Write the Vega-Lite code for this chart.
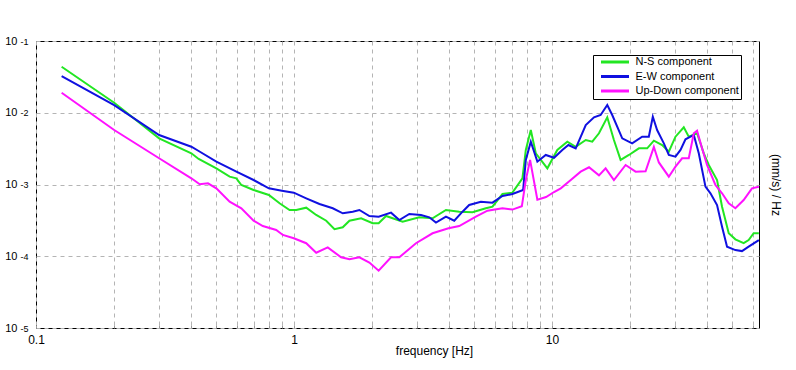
{
"$schema": "https://vega.github.io/schema/vega-lite/v6.json",
"width": 723, "height": 287,
"autosize": {"type": "none"},
"padding": {"left": 36, "top": 41, "right": 37, "bottom": 42},
"background": "white",
"config": {"view": {"stroke": "black", "strokeWidth": 1}, "font": "Liberation Sans"},
"data": {"values": [
{"c":"N-S component","f":0.1257,"v":4.38e-2},{"c":"N-S component","f":0.2009,"v":1.381e-2},{"c":"N-S component","f":0.3,"v":4.40e-3},{"c":"N-S component","f":0.4,"v":2.72e-3},{"c":"N-S component","f":0.427,"v":2.27e-3},{"c":"N-S component","f":0.5,"v":1.68e-3},{"c":"N-S component","f":0.5629,"v":1.285e-3},{"c":"N-S component","f":0.5976,"v":1.22e-3},{"c":"N-S component","f":0.6249,"v":9.84e-4},{"c":"N-S component","f":0.697,"v":8.38e-4},{"c":"N-S component","f":0.799,"v":7.14e-4},{"c":"N-S component","f":0.879,"v":5.47e-4},{"c":"N-S component","f":0.961,"v":4.41e-4},{"c":"N-S component","f":1.02,"v":4.41e-4},{"c":"N-S component","f":1.115,"v":4.75e-4},{"c":"N-S component","f":1.219,"v":3.76e-4},{"c":"N-S component","f":1.333,"v":3.13e-4},{"c":"N-S component","f":1.435,"v":2.38e-4},{"c":"N-S component","f":1.545,"v":2.53e-4},{"c":"N-S component","f":1.64,"v":3.13e-4},{"c":"N-S component","f":1.82,"v":3.38e-4},{"c":"N-S component","f":2.017,"v":2.88e-4},{"c":"N-S component","f":2.128,"v":2.88e-4},{"c":"N-S component","f":2.274,"v":3.64e-4},{"c":"N-S component","f":2.636,"v":3.03e-4},{"c":"N-S component","f":3.058,"v":3.49e-4},{"c":"N-S component","f":3.443,"v":3.38e-4},{"c":"N-S component","f":3.88,"v":4.41e-4},{"c":"N-S component","f":4.368,"v":4.18e-4},{"c":"N-S component","f":4.917,"v":4.10e-4},{"c":"N-S component","f":5.54,"v":4.66e-4},{"c":"N-S component","f":5.877,"v":4.91e-4},{"c":"N-S component","f":6.424,"v":7.37e-4},{"c":"N-S component","f":7.022,"v":7.69e-4},{"c":"N-S component","f":7.678,"v":1.22e-3},{"c":"N-S component","f":7.913,"v":3.03e-3},{"c":"N-S component","f":8.273,"v":5.75e-3},{"c":"N-S component","f":8.65,"v":2.72e-3},{"c":"N-S component","f":9.59,"v":1.68e-3},{"c":"N-S component","f":10.48,"v":3.03e-3},{"c":"N-S component","f":11.46,"v":3.95e-3},{"c":"N-S component","f":12.35,"v":3.36e-3},{"c":"N-S component","f":13.51,"v":4.17e-3},{"c":"N-S component","f":14.32,"v":3.95e-3},{"c":"N-S component","f":15.2,"v":5.17e-3},{"c":"N-S component","f":16.37,"v":8.64e-3},{"c":"N-S component","f":17.37,"v":4.17e-3},{"c":"N-S component","f":18.44,"v":2.2e-3},{"c":"N-S component","f":19.86,"v":2.58e-3},{"c":"N-S component","f":21.71,"v":3.19e-3},{"c":"N-S component","f":23.37,"v":3.19e-3},{"c":"N-S component","f":24.81,"v":4.08e-3},{"c":"N-S component","f":26.72,"v":3.55e-3},{"c":"N-S component","f":28.35,"v":2.86e-3},{"c":"N-S component","f":30.09,"v":4.64e-3},{"c":"N-S component","f":32.4,"v":6.27e-3},{"c":"N-S component","f":33.88,"v":4.64e-3},{"c":"N-S component","f":36.48,"v":5.17e-3},{"c":"N-S component","f":38.73,"v":2.72e-3},{"c":"N-S component","f":40.5,"v":1.87e-3},{"c":"N-S component","f":43.6,"v":1.155e-3},{"c":"N-S component","f":45.59,"v":4.91e-4},{"c":"N-S component","f":48.39,"v":2.09e-4},{"c":"N-S component","f":51.35,"v":1.72e-4},{"c":"N-S component","f":55.29,"v":1.52e-4},{"c":"N-S component","f":57.81,"v":1.68e-4},{"c":"N-S component","f":60.44,"v":2.09e-4},{"c":"N-S component","f":63.3,"v":2.09e-4},
{"c":"E-W component","f":0.1257,"v":3.25e-2},{"c":"E-W component","f":0.2009,"v":1.28e-2},{"c":"E-W component","f":0.3,"v":4.9e-3},{"c":"E-W component","f":0.4,"v":3.36e-3},{"c":"E-W component","f":0.427,"v":2.93e-3},{"c":"E-W component","f":0.5,"v":2.08e-3},{"c":"E-W component","f":0.598,"v":1.51e-3},{"c":"E-W component","f":0.697,"v":1.155e-3},{"c":"E-W component","f":0.799,"v":8.85e-4},{"c":"E-W component","f":0.897,"v":8.2e-4},{"c":"E-W component","f":0.998,"v":7.69e-4},{"c":"E-W component","f":1.115,"v":6.42e-4},{"c":"E-W component","f":1.255,"v":5.35e-4},{"c":"E-W component","f":1.413,"v":4.66e-4},{"c":"E-W component","f":1.545,"v":3.97e-4},{"c":"E-W component","f":1.689,"v":4.18e-4},{"c":"E-W component","f":1.792,"v":4.41e-4},{"c":"E-W component","f":1.959,"v":3.64e-4},{"c":"E-W component","f":2.128,"v":3.56e-4},{"c":"E-W component","f":2.377,"v":4.05e-4},{"c":"E-W component","f":2.559,"v":3.2e-4},{"c":"E-W component","f":2.798,"v":3.88e-4},{"c":"E-W component","f":3.105,"v":3.76e-4},{"c":"E-W component","f":3.344,"v":3.49e-4},{"c":"E-W component","f":3.549,"v":2.94e-4},{"c":"E-W component","f":3.88,"v":3.56e-4},{"c":"E-W component","f":4.178,"v":3.13e-4},{"c":"E-W component","f":4.498,"v":4.18e-4},{"c":"E-W component","f":4.774,"v":5.18e-4},{"c":"E-W component","f":5.3,"v":5.76e-4},{"c":"E-W component","f":5.877,"v":5.58e-4},{"c":"E-W component","f":6.424,"v":6.91e-4},{"c":"E-W component","f":7.022,"v":7.37e-4},{"c":"E-W component","f":7.725,"v":8.38e-4},{"c":"E-W component","f":7.913,"v":2.2e-3},{"c":"E-W component","f":8.273,"v":3.95e-3},{"c":"E-W component","f":8.773,"v":2.08e-3},{"c":"E-W component","f":9.454,"v":2.58e-3},{"c":"E-W component","f":10.18,"v":2.36e-3},{"c":"E-W component","f":10.96,"v":3.03e-3},{"c":"E-W component","f":11.57,"v":3.55e-3},{"c":"E-W component","f":12.35,"v":3.19e-3},{"c":"E-W component","f":13.51,"v":6.75e-3},{"c":"E-W component","f":14.54,"v":8.64e-3},{"c":"E-W component","f":15.43,"v":9.3e-3},{"c":"E-W component","f":16.37,"v":1.28e-2},{"c":"E-W component","f":17.11,"v":9.3e-3},{"c":"E-W component","f":18.71,"v":4.4e-3},{"c":"E-W component","f":20.44,"v":3.75e-3},{"c":"E-W component","f":22.35,"v":4.64e-3},{"c":"E-W component","f":23.72,"v":4.64e-3},{"c":"E-W component","f":24.58,"v":8.81e-3},{"c":"E-W component","f":25.54,"v":5.75e-3},{"c":"E-W component","f":27.12,"v":3.75e-3},{"c":"E-W component","f":28.35,"v":2.58e-3},{"c":"E-W component","f":30.09,"v":2.44e-3},{"c":"E-W component","f":31.47,"v":3.03e-3},{"c":"E-W component","f":32.9,"v":4.27e-3},{"c":"E-W component","f":35.43,"v":4.9e-3},{"c":"E-W component","f":37.04,"v":2.72e-3},{"c":"E-W component","f":39.32,"v":9.32e-4},{"c":"E-W component","f":41.11,"v":7.54e-4},{"c":"E-W component","f":43.6,"v":5.18e-4},{"c":"E-W component","f":45.59,"v":2.58e-4},{"c":"E-W component","f":47.67,"v":1.36e-4},{"c":"E-W component","f":51.35,"v":1.22e-4},{"c":"E-W component","f":54.47,"v":1.18e-4},{"c":"E-W component","f":57.81,"v":1.36e-4},{"c":"E-W component","f":63.3,"v":1.68e-4},
{"c":"Up-Down component","f":0.1257,"v":1.9e-2},{"c":"Up-Down component","f":0.2009,"v":5.75e-3},{"c":"Up-Down component","f":0.3,"v":2.32e-3},{"c":"Up-Down component","f":0.4,"v":1.22e-3},{"c":"Up-Down component","f":0.431,"v":1.006e-3},{"c":"Up-Down component","f":0.464,"v":1.04e-3},{"c":"Up-Down component","f":0.5,"v":8.85e-4},{"c":"Up-Down component","f":0.5629,"v":5.76e-4},{"c":"Up-Down component","f":0.6249,"v":4.66e-4},{"c":"Up-Down component","f":0.697,"v":3.13e-4},{"c":"Up-Down component","f":0.757,"v":2.64e-4},{"c":"Up-Down component","f":0.853,"v":2.32e-4},{"c":"Up-Down component","f":0.905,"v":1.98e-4},{"c":"Up-Down component","f":0.998,"v":1.78e-4},{"c":"Up-Down component","f":1.115,"v":1.52e-4},{"c":"Up-Down component","f":1.219,"v":1.12e-4},{"c":"Up-Down component","f":1.351,"v":1.33e-4},{"c":"Up-Down component","f":1.522,"v":9.67e-5},{"c":"Up-Down component","f":1.64,"v":9.07e-5},{"c":"Up-Down component","f":1.792,"v":9.67e-5},{"c":"Up-Down component","f":1.959,"v":8.18e-5},{"c":"Up-Down component","f":2.128,"v":6.29e-5},{"c":"Up-Down component","f":2.377,"v":9.67e-5},{"c":"Up-Down component","f":2.559,"v":9.67e-5},{"c":"Up-Down component","f":2.969,"v":1.52e-4},{"c":"Up-Down component","f":3.443,"v":2.09e-4},{"c":"Up-Down component","f":3.97,"v":2.45e-4},{"c":"Up-Down component","f":4.368,"v":2.64e-4},{"c":"Up-Down component","f":5.068,"v":3.56e-4},{"c":"Up-Down component","f":5.62,"v":4.31e-4},{"c":"Up-Down component","f":6.424,"v":4.66e-4},{"c":"Up-Down component","f":7.022,"v":4.47e-4},{"c":"Up-Down component","f":7.637,"v":4.97e-4},{"c":"Up-Down component","f":7.913,"v":1.155e-3},{"c":"Up-Down component","f":8.22,"v":2.2e-3},{"c":"Up-Down component","f":8.773,"v":6.16e-4},{"c":"Up-Down component","f":9.48,"v":6.7e-4},{"c":"Up-Down component","f":10.18,"v":7.86e-4},{"c":"Up-Down component","f":10.81,"v":8.85e-4},{"c":"Up-Down component","f":11.82,"v":1.155e-3},{"c":"Up-Down component","f":12.91,"v":1.51e-3},{"c":"Up-Down component","f":13.91,"v":1.74e-3},{"c":"Up-Down component","f":15.2,"v":1.34e-3},{"c":"Up-Down component","f":16.13,"v":1.68e-3},{"c":"Up-Down component","f":17.37,"v":1.155e-3},{"c":"Up-Down component","f":19.28,"v":1.87e-3},{"c":"Up-Down component","f":21.08,"v":1.51e-3},{"c":"Up-Down component","f":23.04,"v":1.53e-3},{"c":"Up-Down component","f":24.81,"v":3.33e-3},{"c":"Up-Down component","f":25.94,"v":2.03e-3},{"c":"Up-Down component","f":28.35,"v":1.285e-3},{"c":"Up-Down component","f":30.09,"v":1.77e-3},{"c":"Up-Down component","f":31.92,"v":2.32e-3},{"c":"Up-Down component","f":33.88,"v":2.32e-3},{"c":"Up-Down component","f":35.43,"v":5.17e-3},{"c":"Up-Down component","f":36.48,"v":5.62e-3},{"c":"Up-Down component","f":38.14,"v":3.19e-3},{"c":"Up-Down component","f":39.87,"v":1.87e-3},{"c":"Up-Down component","f":42.98,"v":9.84e-4},{"c":"Up-Down component","f":45.59,"v":7.54e-4},{"c":"Up-Down component","f":48.39,"v":5.47e-4},{"c":"Up-Down component","f":51.35,"v":4.66e-4},{"c":"Up-Down component","f":55.29,"v":6.08e-4},{"c":"Up-Down component","f":59.55,"v":8.85e-4},{"c":"Up-Down component","f":63.3,"v":9.32e-4}
]},
"encoding": {
  "x": {"field": "f", "type": "quantitative",
    "scale": {"type": "log", "domain": [0.1, 63.4], "nice": false},
    "axis": {"values": [0.1,0.2,0.3,0.4,0.5,0.6,0.7,0.8,0.9,1,2,3,4,5,6,7,8,9,10,20,30,40,50,60],
      "labelExpr": "datum.value == 0.1 ? '0.1' : datum.value == 1 ? '1' : datum.value == 10 ? '10' : ''",
      "labelOverlap": false, "labelFlush": false, "labelFontSize": 12, "labelColor": "black", "labelPadding": 9,
      "grid": true, "gridColor": "#b4b4b4", "gridDash": [4, 4], "domain": false,
      "ticks": true, "tickSize": -3, "tickColor": "#999999",
      "title": "frequency [Hz]", "titleFontSize": 12, "titleFontWeight": "normal", "titleColor": "black",
      "titleX": 398, "titleY": 26, "titleAlign": "center", "titleBaseline": "alphabetic"}}
},
"layer": [
  {"mark": {"type": "line", "strokeWidth": 2, "clip": true},
   "encoding": {
    "y": {"field": "v", "type": "quantitative",
      "scale": {"type": "log", "domain": [0.00001, 0.1], "nice": false},
      "axis": {"orient": "left", "values": [0.00001, 0.0001, 0.001, 0.01, 0.1],
        "labelExpr": "'10'",
        "labelOverlap": false, "labelFlush": false, "labelFontSize": 11, "labelColor": "black", "labelPadding": 19,
        "labelAlign": "right", "labelBaseline": "middle", "labelDy": 1,
        "grid": true, "gridColor": "#b4b4b4", "gridDash": [4, 4], "domain": false, "ticks": false,
        "title": "(mm/s)  / Hz", "titleFontSize": 12, "titleFontWeight": "normal", "titleColor": "black",
        "titleX": 739, "titleY": 143.5, "titleAngle": 90, "titleAlign": "center", "titleBaseline": "middle"}},
    "color": {"field": "c", "type": "nominal",
      "scale": {"domain": ["N-S component", "E-W component", "Up-Down component"], "range": ["#22e622", "#1010e0", "#ff11ff"]},
      "legend": {"title": null, "orient": "none", "legendX": 557, "legendY": 14,
        "fillColor": "white", "strokeColor": "black", "padding": 1.5, "rowPadding": 1.5, "cornerRadius": 0,
        "symbolType": "M-1,0H8.33", "symbolSize": 36, "symbolStrokeWidth": 3, "symbolOffset": 4,
        "labelOffset": 26, "labelFontSize": 11, "labelColor": "black"}}
   }},
  {"mark": {"type": "line", "strokeOpacity": 0, "clip": true},
   "encoding": {
    "y": {"field": "v", "type": "quantitative",
      "scale": {"type": "log", "domain": [0.00001, 0.1], "nice": false},
      "axis": {"orient": "left", "values": [0.00001, 0.0001, 0.001, 0.01, 0.1],
        "labelExpr": "datum.value >= 0.09 ? '-1' : datum.value >= 0.009 ? '-2' : datum.value >= 0.0009 ? '-3' : datum.value >= 0.00009 ? '-4' : '-5'",
        "labelOverlap": false, "labelFlush": false, "labelFontSize": 9, "labelColor": "black", "labelPadding": 16,
        "labelAlign": "left", "labelBaseline": "middle", "labelDy": -5,
        "grid": false, "domain": false, "ticks": false, "title": null}},
    "detail": {"field": "c"}
   }}
],
"resolve": {"axis": {"y": "independent"}}
}
